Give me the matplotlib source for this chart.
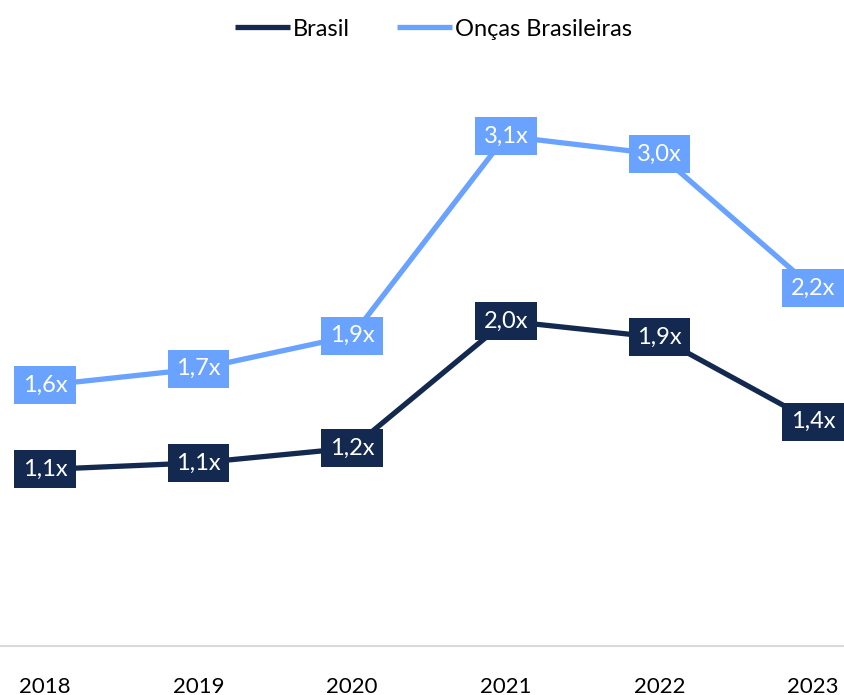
import matplotlib
matplotlib.use("Agg")
import matplotlib.pyplot as plt

# data (labels are the rounded values)
years = ["2018", "2019", "2020", "2021", "2022", "2023"]
brasil = [1.07, 1.11, 1.20, 1.97, 1.87, 1.36]
oncas = [1.58, 1.68, 1.88, 3.09, 2.98, 2.17]

dark = "#13294F"
light = "#69A2FF"

plt.rcParams['font.family'] = ['Lato', 'DejaVu Sans']

fig = plt.figure(figsize=(8.44, 6.95), dpi=100)
ax = fig.add_axes([0, 1 - 646 / 695, 1, (646 - 52) / 695])

x = list(range(len(years)))
ax.plot(x, brasil, color=dark, lw=3.8, label="Brasil", solid_capstyle="butt")
ax.plot(x, oncas, color=light, lw=3.8, label="Onças Brasileiras", solid_capstyle="butt")

def fmt(v):
    return ("%.1f" % v).replace(".", ",") + "x"

for i in x:
    ax.text(i, brasil[i], fmt(brasil[i]), ha="center", va="center", color="white",
            fontsize=17, bbox=dict(boxstyle="square,pad=0.36", fc=dark, ec="none"))
    ax.text(i, oncas[i], fmt(oncas[i]), ha="center", va="center", color="white",
            fontsize=17, bbox=dict(boxstyle="square,pad=0.36", fc=light, ec="none"))

ax.set_xlim(-45 * 5 / 768, 5 + 31 * 5 / 768)
ax.set_ylim(0, 3.6)
ax.set_xticks(x)
ax.set_xticklabels(years, fontsize=16)
ax.tick_params(axis="x", length=0, pad=22)
ax.set_yticks([])
for s in ["top", "left", "right"]:
    ax.spines[s].set_visible(False)
ax.spines["bottom"].set_color("#D9D9D9")
ax.spines["bottom"].set_linewidth(1.5)

ax.legend(loc="upper center", bbox_to_anchor=(0.514, 1.092), ncol=2, frameon=False,
          fontsize=17, handlelength=2.3, handletextpad=0.15, columnspacing=2.0)

fig.savefig("out.png", dpi=100)
